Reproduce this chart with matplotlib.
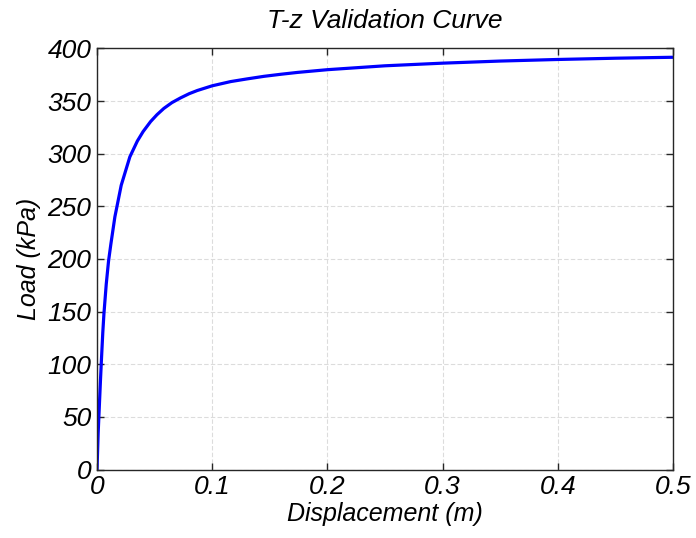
import matplotlib
matplotlib.use('Agg')
import matplotlib.pyplot as plt

# T-z curve
displacement = [0.0, 0.001, 0.002, 0.003, 0.004, 0.005, 0.006, 0.008, 0.010,
                0.012, 0.0155, 0.021, 0.0285, 0.035, 0.040, 0.0465, 0.052,
                0.058, 0.065, 0.0725, 0.080, 0.087, 0.100, 0.116, 0.130,
                0.145, 0.160, 0.174, 0.200, 0.250, 0.300, 0.350, 0.400,
                0.450, 0.500]
load = [0, 35, 60, 85, 108, 130, 148, 176, 198,
        214, 240, 270, 297, 312, 321, 330.5, 337,
        343, 348.5, 353, 357, 360, 364.5, 368.5, 371,
        373.5, 375.5, 377.2, 379.8, 383.5, 386, 388, 389.5,
        390.7, 391.6]

x_ticks = [0, 0.1, 0.2, 0.3, 0.4, 0.5]
x_tick_labels = ['0', '0.1', '0.2', '0.3', '0.4', '0.5']
y_ticks = [0, 50, 100, 150, 200, 250, 300, 350, 400]

plt.rcParams['font.family'] = ['Liberation Sans', 'DejaVu Sans']
plt.rcParams['font.style'] = 'italic'

fig = plt.figure(figsize=(6.96, 5.38), dpi=100)
ax = fig.add_axes([0.1394, 0.1273, 0.8276, 0.7827])

ax.plot(displacement, load, color='#0000ff', linewidth=2.3,
        solid_joinstyle='round')

ax.set_xlim(0, 0.5)
ax.set_ylim(0, 400)
ax.set_xticks(x_ticks)
ax.set_xticklabels(x_tick_labels)
ax.set_yticks(y_ticks)

ax.grid(True, color='#dcdcdc', linestyle=(0, (4, 2)), linewidth=0.8)
ax.tick_params(direction='in', length=5, width=1, colors='#262626',
               top=True, right=True, labelsize=19, pad=4)
for lab in ax.get_xticklabels() + ax.get_yticklabels():
    lab.set_color('black')
for s in ax.spines.values():
    s.set_color('#262626')
    s.set_linewidth(1.0)

ax.set_xlabel('Displacement (m)', fontsize=18, labelpad=2)
ax.set_ylabel('Load (kPa)', fontsize=18, labelpad=5)
ax.set_title('T-z Validation Curve', fontsize=19, pad=15)

fig.savefig('out.png', dpi=100)
